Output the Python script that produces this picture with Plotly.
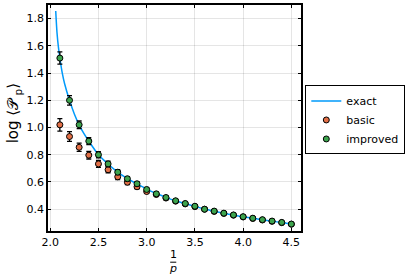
import plotly.graph_objects as go

# inverse p values
x_pts = [2.1, 2.2, 2.3, 2.4, 2.5, 2.6, 2.7, 2.8, 2.9, 3.0, 3.1, 3.2, 3.3,
         3.4, 3.5, 3.6, 3.7, 3.8, 3.9, 4.0, 4.1, 4.2, 4.3, 4.4, 4.5]

basic = [1.02, 0.934, 0.855, 0.797, 0.733, 0.69, 0.638, 0.598, 0.565, 0.53,
         0.508, 0.482, 0.459, 0.439, 0.419, 0.40, 0.384, 0.369, 0.356, 0.343,
         0.332, 0.321, 0.311, 0.301, 0.290]
basic_err = [0.046, 0.036, 0.03, 0.028, 0.025, 0.022, 0.02, 0.018, 0.016, 0.014,
             0.012, 0.011, 0.01, 0.01, 0.009, 0.009, 0.008, 0.008, 0.008, 0.007,
             0.007, 0.007, 0.007, 0.006, 0.006]

improved = [1.51, 1.20, 1.02, 0.90, 0.80, 0.733, 0.672, 0.624, 0.587, 0.545,
            0.513, 0.486, 0.462, 0.442, 0.422, 0.40, 0.386, 0.371, 0.358, 0.345,
            0.334, 0.323, 0.313, 0.303, 0.291]
improved_err = [0.045, 0.035, 0.028, 0.025, 0.022, 0.02, 0.018, 0.016, 0.015, 0.013,
                0.012, 0.011, 0.01, 0.01, 0.009, 0.009, 0.008, 0.008, 0.008, 0.007,
                0.007, 0.007, 0.007, 0.006, 0.006]

x_exact = [2.057, 2.07, 2.085, 2.1, 2.125, 2.15, 2.2, 2.25, 2.3, 2.35, 2.4, 2.5,
           2.6, 2.7, 2.8, 2.9, 3.0, 3.1, 3.2, 3.3, 3.4, 3.5, 3.6, 3.7, 3.8, 3.9,
           4.0, 4.1, 4.2, 4.3, 4.4, 4.5, 4.53]
y_exact = [1.856, 1.70, 1.59, 1.51, 1.40, 1.32, 1.20, 1.10, 1.02, 0.955, 0.90, 0.80,
           0.732, 0.672, 0.625, 0.586, 0.548, 0.515, 0.487, 0.462, 0.441, 0.421,
           0.401, 0.385, 0.370, 0.357, 0.344, 0.333, 0.322, 0.312, 0.302, 0.292, 0.289]

x_ticks = [2.0, 2.5, 3.0, 3.5, 4.0, 4.5]
x_ticktext = ["2.0", "2.5", "3.0", "3.5", "4.0", "4.5"]
y_ticks = [0.4, 0.6, 0.8, 1.0, 1.2, 1.4, 1.6, 1.8]
y_ticktext = ["0.4", "0.6", "0.8", "1.0", "1.2", "1.4", "1.6", "1.8"]

BLUE = "#009AFA"
ORANGE = "#E26F46"
GREEN = "#3DA44D"

fig = go.Figure()
fig.add_trace(go.Scatter(x=x_exact, y=y_exact, mode="lines", name="exact",
                         line=dict(color=BLUE, width=1.5, shape="spline", smoothing=0.6)))
err_style = dict(type="data", thickness=1.3, width=2.5, color="black")
fig.add_trace(go.Scatter(x=x_pts, y=basic, mode="markers", name="basic",
                         error_y=dict(array=basic_err, **err_style),
                         marker=dict(color=ORANGE, size=6,
                                     line=dict(color="black", width=1))))
fig.add_trace(go.Scatter(x=x_pts, y=improved, mode="markers", name="improved",
                         error_y=dict(array=improved_err, **err_style),
                         marker=dict(color=GREEN, size=6,
                                     line=dict(color="black", width=1))))

axis_common = dict(showgrid=True, gridcolor="rgba(0,0,0,0.1)", gridwidth=0.5,
                   zeroline=False, showline=True, linecolor="black", linewidth=1.5,
                   mirror="ticks", ticks="inside", ticklen=3, tickcolor="black",
                   tickfont=dict(family="DejaVu Sans", size=11, color="black"))

fig.update_layout(
    width=415, height=277,
    margin=dict(l=48, r=114, t=3, b=46),
    paper_bgcolor="white", plot_bgcolor="white",
    font=dict(family="DejaVu Sans", size=11, color="black"),
    xaxis=dict(range=[1.977, 4.60], tickvals=x_ticks, ticktext=x_ticktext, **axis_common),
    yaxis=dict(range=[0.24, 1.90], tickvals=y_ticks, ticktext=y_ticktext, **axis_common),
    legend=dict(x=1.017, y=0.644, xanchor="left", yanchor="top",
                bordercolor="black", borderwidth=1, bgcolor="white",
                font=dict(family="DejaVu Sans", size=11), tracegroupgap=0),
    showlegend=True,
)

# y-axis title
fig.add_annotation(text="log ⟨𝒫<sub> p</sub>⟩", xref="paper", yref="paper",
                   x=-0.135, y=0.52, xanchor="center", yanchor="middle",
                   textangle=-90, showarrow=False,
                   font=dict(family="DejaVu Sans", size=15, color="black"))
# x-axis title as a fraction 1/p
fig.add_annotation(text="1<br><i>p</i>", xref="paper", yref="paper", x=0.495, y=-0.136,
                   xanchor="center", yanchor="middle",
                   showarrow=False, font=dict(family="DejaVu Sans", size=11))
fig.add_shape(type="line", xref="paper", yref="paper", x0=0.483, x1=0.507,
              y0=-0.138, y1=-0.138, line=dict(color="black", width=1))

fig.write_html("out.html", config={"displayModeBar": False},
               post_script="document.body.style.margin='0';")
